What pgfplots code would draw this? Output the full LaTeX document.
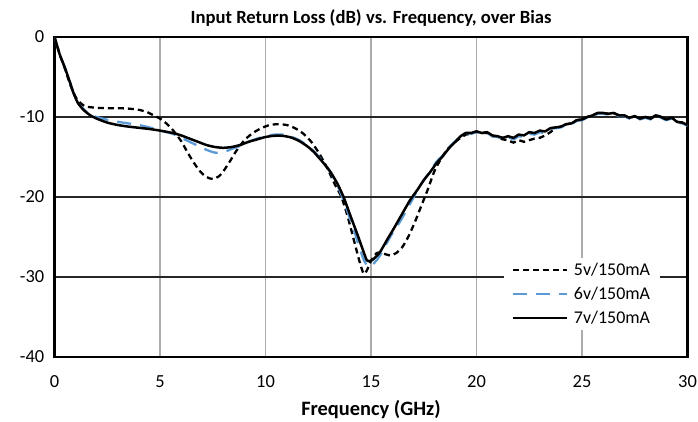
\documentclass[border=0pt]{standalone}
\usepackage{fontspec}
\setmainfont{Carlito}
\usepackage{pgfplots}
\pgfplotsset{compat=1.18}
\definecolor{xlblue}{HTML}{5B9BD5}

\begin{document}
\begin{tikzpicture}
\begin{axis}[
    at={(0,0)}, anchor=south west,
    scale only axis,
    width=633bp, height=320bp,
    xmin=0, xmax=30, ymin=-40, ymax=0,
    xtick={0,5,...,30}, ytick={-40,-30,...,0},
    major tick length=0pt,
    /pgf/number format/assume math mode=true,
    tick label style={font=\fontsize{18.5}{20}\selectfont},
    xticklabel style={anchor=center, yshift=-25bp},
    yticklabel style={anchor=east, inner sep=0pt, xshift=-10bp},
    xmajorgrids, ymajorgrids,
    x grid style={gray!65, line width=1.2bp},
    y grid style={black!85, line width=1.2bp},
    axis line style={black, line width=2.4bp},
    title={Input Return Loss (dB) vs. Frequency, over Bias},
    title style={font=\bfseries\fontsize{18.7}{20}\selectfont, at={(axis description cs:0.5,1)}, anchor=center, yshift=13bp},
    xlabel={Frequency (GHz)},
    xlabel style={font=\bfseries\fontsize{20.5}{22}\selectfont, at={(axis description cs:0.5,0)}, anchor=center, yshift=-53bp},
    legend cell align=left,
    legend style={at={(rel axis cs:0.709,0.31)}, anchor=north west, draw=none, fill=white,
        font=\fontsize{18}{20}\selectfont, row sep=6bp, inner xsep=8bp, inner ysep=3bp,
        /tikz/every odd column/.append style={column sep=4bp}},
    legend image code/.code={\draw[#1] (0bp,0bp) -- (54bp,0bp);},
]
% 5v/150mA
\addplot[black, line width=2.3bp, dash pattern=on 6bp off 4bp, smooth, tension=0.4] coordinates {
(0,0) (0.25,-2.2) (0.5,-4.0) (0.75,-6.0) (1.0,-7.5) (1.25,-8.3) (1.5,-8.7)
(2.0,-8.85) (2.5,-8.9) (3.0,-8.9) (3.5,-8.95) (4.0,-9.1) (4.4,-9.4) (4.7,-9.8)
(5.0,-10.2) (5.3,-10.8) (5.6,-11.6) (6.0,-13.0) (6.3,-14.4) (6.6,-15.7) (6.9,-16.8)
(7.2,-17.5) (7.5,-17.75) (7.8,-17.4) (8.0,-16.8) (8.3,-15.6) (8.6,-14.3) (9.0,-12.9)
(9.4,-12.0) (9.8,-11.4) (10.2,-11.0) (10.6,-10.9) (11.0,-11.0) (11.4,-11.4) (11.8,-12.1)
(12.2,-13.2) (12.6,-14.8) (13.0,-16.8) (13.3,-18.5) (13.6,-20.0) (13.9,-22.5) (14.2,-25.5)
(14.45,-28.0) (14.65,-29.6) (14.8,-29.2) (15.0,-28.0) (15.27,-27.0) (15.5,-27.0)
(15.9,-27.3) (16.2,-27.0) (16.5,-26.2) (16.8,-24.8) (17.1,-23.0) (17.4,-21.0)
(17.7,-19.0) (18.0,-16.8) (18.3,-15.3) (18.6,-14.1) (18.9,-13.3) (19.2,-12.7)
(19.5,-12.2) (19.75,-12.1) (20.0,-11.8) (20.25,-12.0) (20.5,-12.0) (20.75,-12.4)
(21.0,-12.5) (21.25,-12.8) (21.5,-12.9) (21.75,-13.2) (22.0,-12.9) (22.25,-13.1)
(22.5,-12.9) (22.75,-12.7) (23.0,-12.6) (23.25,-12.3) (23.5,-11.9) (23.75,-11.4)
(24.0,-11.2) (24.25,-10.9) (24.5,-10.8) (24.75,-10.4) (25.0,-10.3) (25.25,-10.0)
(25.5,-9.8) (25.75,-9.5) (26.0,-9.5) (26.25,-9.6) (26.5,-9.5) (26.75,-9.8)
(27.0,-9.8) (27.25,-10.1) (27.5,-9.9) (27.75,-10.2) (28.0,-10.0) (28.25,-10.2)
(28.5,-9.8) (28.75,-10.0) (29.0,-10.3) (29.25,-10.1) (29.5,-10.6) (29.75,-10.7) (30.0,-11.0)
};
\addlegendentry{5v/150mA}
% 6v/150mA
\addplot[xlblue, line width=2.3bp, dash pattern=on 14bp off 9bp, smooth, tension=0.4] coordinates {
(0,0) (0.25,-2.2) (0.5,-3.9) (0.75,-5.8) (0.9,-7.0) (1.1,-8.2) (1.37,-9.0)
(1.7,-9.7) (2.0,-10.0) (2.5,-10.35) (3.0,-10.6) (3.5,-10.8) (4.0,-11.0) (4.5,-11.3)
(5.0,-11.7) (5.6,-12.1) (6.0,-12.6) (6.4,-13.1) (6.8,-13.6) (7.2,-14.1) (7.6,-14.45)
(8.0,-14.4) (8.4,-14.0) (8.8,-13.6) (9.2,-13.1) (9.6,-12.7) (10.0,-12.4) (10.4,-12.2)
(10.8,-12.2) (11.2,-12.45) (11.6,-12.9) (12.0,-13.6) (12.3,-14.3) (12.7,-15.5)
(13.06,-16.8) (13.4,-18.5) (13.7,-20.4) (13.95,-22.3) (14.2,-24.2) (14.45,-26.3)
(14.65,-27.8) (14.85,-28.7) (15.05,-28.5) (15.27,-27.9) (15.5,-27.0) (15.74,-25.8)
(16.0,-24.6) (16.37,-23.1) (16.8,-21.1) (17.17,-19.3) (17.5,-17.9) (17.8,-16.8)
(18.1,-15.6) (18.4,-14.8) (18.7,-13.8) (19.0,-13.0) (19.25,-12.4) (19.5,-12.0)
(19.75,-12.1) (20.0,-11.9) (20.25,-12.1) (20.5,-12.0) (20.75,-12.4) (21.0,-12.5)
(21.25,-12.7) (21.5,-12.5) (21.75,-12.8) (22.0,-12.4) (22.25,-12.5) (22.5,-12.1)
(22.75,-12.2) (23.0,-11.9) (23.25,-12.0) (23.5,-11.5) (23.75,-11.4) (24.0,-11.3)
(24.25,-11.0) (24.5,-10.9) (24.75,-10.5) (25.0,-10.4) (25.25,-10.1) (25.5,-9.9)
(25.75,-9.6) (26.0,-9.6) (26.25,-9.7) (26.5,-9.6) (26.75,-9.9) (27.0,-9.9)
(27.25,-10.2) (27.5,-10.0) (27.75,-10.3) (28.0,-10.1) (28.25,-10.3) (28.5,-9.9)
(28.75,-10.1) (29.0,-10.4) (29.25,-10.2) (29.5,-10.7) (29.75,-10.8) (30.0,-11.1)
};
\addlegendentry{6v/150mA}
% 7v/150mA
\addplot[black, line width=2.5bp, smooth, tension=0.4] coordinates {
(0,0) (0.25,-2.2) (0.5,-3.9) (0.75,-5.8) (0.9,-7.0) (1.1,-8.2) (1.37,-9.1)
(1.7,-9.8) (2.0,-10.2) (2.5,-10.7) (3.0,-11.0) (3.5,-11.2) (4.0,-11.35) (4.5,-11.5)
(5.0,-11.7) (5.6,-12.0) (6.0,-12.3) (6.4,-12.7) (6.8,-13.1) (7.2,-13.5) (7.6,-13.75)
(8.0,-13.85) (8.4,-13.75) (8.8,-13.5) (9.2,-13.1) (9.6,-12.8) (10.0,-12.5) (10.4,-12.35)
(10.8,-12.35) (11.2,-12.55) (11.6,-13.0) (12.0,-13.7) (12.3,-14.4) (12.7,-15.6)
(13.06,-16.8) (13.4,-18.3) (13.7,-20.0) (13.95,-21.8) (14.16,-23.3) (14.4,-25.0)
(14.6,-26.5) (14.8,-27.9) (14.95,-28.0) (15.1,-27.8) (15.3,-27.3) (15.45,-26.8)
(15.75,-25.4) (16.0,-24.3) (16.22,-23.3) (16.5,-22.0) (16.85,-20.4) (17.2,-19.1)
(17.5,-17.9) (17.8,-16.9) (18.1,-15.8) (18.4,-14.9) (18.7,-13.9) (19.0,-13.1)
(19.25,-12.4) (19.5,-12.0) (19.75,-12.0) (20.0,-11.8) (20.25,-12.0) (20.5,-11.9)
(20.75,-12.3) (21.0,-12.4) (21.25,-12.6) (21.5,-12.4) (21.75,-12.6) (22.0,-12.2)
(22.25,-12.3) (22.5,-11.9) (22.75,-12.0) (23.0,-11.7) (23.25,-11.8) (23.5,-11.4)
(23.75,-11.3) (24.0,-11.2) (24.25,-10.9) (24.5,-10.8) (24.75,-10.4) (25.0,-10.3)
(25.25,-10.0) (25.5,-9.8) (25.75,-9.5) (26.0,-9.5) (26.25,-9.6) (26.5,-9.5)
(26.75,-9.8) (27.0,-9.8) (27.25,-10.1) (27.5,-9.9) (27.75,-10.2) (28.0,-10.0)
(28.25,-10.2) (28.5,-9.8) (28.75,-10.0) (29.0,-10.3) (29.25,-10.1) (29.5,-10.6)
(29.75,-10.7) (30.0,-11.0)
};
\addlegendentry{7v/150mA}
\end{axis}
\pgfresetboundingbox
\path[use as bounding box] (-54.5bp,-65bp) rectangle (643.5bp,357bp);
\end{tikzpicture}
\end{document}
